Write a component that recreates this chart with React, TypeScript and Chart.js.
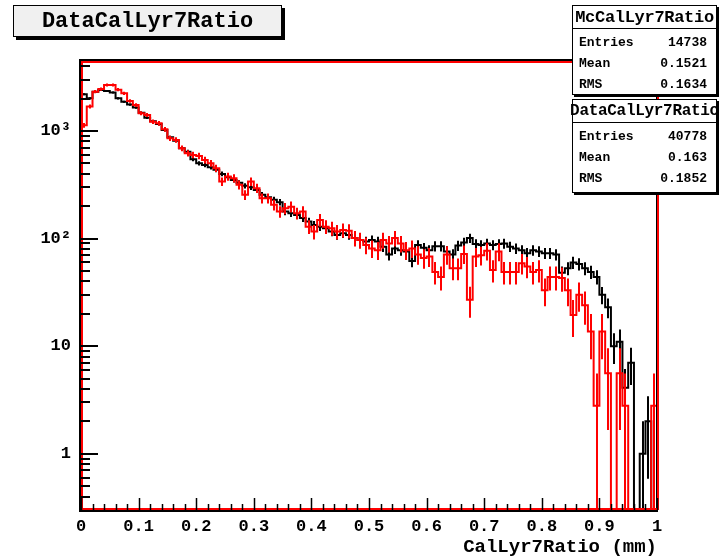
import React, { useEffect, useRef } from 'react';
import { Chart, registerables } from 'chart.js';

Chart.register(...registerables);

// ---------------- data ----------------
const BIN_WIDTH = 0.01;
const X_MIN = 0;
const X_MAX = 1;
const Y_MIN = 0.302;
const Y_MAX = 4470;

// Data histogram (black), 100 bins of 0.01
const dataCounts = [
  2190, 2010, 2320, 2400, 2350, 2280, 2010, 1870, 1760, 1650,
  1480, 1330, 1230, 1160, 1020, 874, 812, 690, 642, 546,
  501, 483, 460, 435, 399, 372, 351, 331, 309, 300,
  283, 255, 242, 229, 218, 178, 172, 166, 155, 144,
  134, 129, 125, 116, 108, 112, 108, 101, 97, 94,
  97, 94, 84, 71, 81, 78, 76, 62, 87, 82,
  78, 85, 85, 76, 71, 86, 92, 101, 89, 87,
  90, 87, 89, 90, 84, 81, 78, 73, 78, 76,
  73, 73, 71, 48, 53, 60, 58, 53, 49, 44,
  30, 23, 10, 11, 4.1, 7, 0, 1, 2, 0,
];

// MC histogram (red), normalised to the data
const mcCounts = [
  1130, 1690, 2320, 2450, 2670, 2670, 2420, 2240, 1900, 1740,
  1460, 1409, 1221, 1178, 1037, 855, 825, 690, 621, 599,
  586, 538, 501, 451, 339, 377, 364, 316, 255, 339,
  294, 237, 237, 206, 178, 191, 198, 172, 178, 129,
  116, 149, 129, 125, 116, 120, 118, 101, 97, 87,
  81, 78, 97, 90, 101, 90, 78, 81, 71, 66,
  68, 49, 44, 71, 53, 53, 72, 27, 68, 70,
  77, 51, 76, 49, 49, 49, 59, 55, 49, 51,
  33, 44, 44, 43, 33, 19.5, 30, 24, 13.7, 2.8,
  13.7, 5.6, 0, 5.6, 2.8, 0, 0, 0, 0, 2.8,
];

const xTickValues = [0, 0.1, 0.2, 0.3, 0.4, 0.5, 0.6, 0.7, 0.8, 0.9, 1];
const xTickLabels = ['0', '0.1', '0.2', '0.3', '0.4', '0.5', '0.6', '0.7', '0.8', '0.9', '1'];
const yDecades = [1, 10, 100, 1000];
const yDecadeLabels = ['1', '10', '10²', '10³'];

const titleText = 'DataCalLyr7Ratio';
const xAxisTitle = 'CalLyr7Ratio (mm)';

const statLabels = ['Entries', 'Mean', 'RMS'];
const mcStatName = 'McCalLyr7Ratio';
const mcStatValues = ['14738', '0.1521', '0.1634'];
const dataStatName = 'DataCalLyr7Ratio';
const dataStatValues = ['40778', '0.163', '0.1852'];

const DATA_ENTRIES = 40778;
const MC_ENTRIES = 14738;

// ---------------- style ----------------
const RED = '#ff0000';
const BLACK = '#000000';
const MONO = "'Liberation Mono', 'DejaVu Sans Mono', 'Courier New', monospace";

const ZERO_FLOOR = 0.01; // empty bins are drawn below the axis (clipped)

function stepPoints(vals: number[]) {
  const pts = vals.map((v, i) => ({ x: i * BIN_WIDTH, y: v > 0 ? v : ZERO_FLOOR }));
  const last = vals[vals.length - 1];
  pts.push({ x: vals.length * BIN_WIDTH, y: last > 0 ? last : ZERO_FLOOR });
  return pts;
}

const rootPlugin = {
  id: 'rootStyle',
  afterDatasetsDraw(chart: any) {
    const { ctx, chartArea: a } = chart;
    const xs = chart.scales.x;
    const ys = chart.scales.y;

    // error bars
    ctx.save();
    ctx.beginPath();
    ctx.rect(a.left, a.top, a.right - a.left, a.bottom - a.top);
    ctx.clip();
    const drawErr = (vals: number[], w: number, color: string) => {
      ctx.strokeStyle = color;
      ctx.lineWidth = 2;
      vals.forEach((v, i) => {
        if (v <= 0) return;
        const e = Math.sqrt(v * w);
        const px = Math.round(xs.getPixelForValue((i + 0.5) * BIN_WIDTH));
        const lo = Math.max(v - e, ZERO_FLOOR);
        ctx.beginPath();
        ctx.moveTo(px, ys.getPixelForValue(lo));
        ctx.lineTo(px, ys.getPixelForValue(v + e));
        ctx.stroke();
      });
    };
    drawErr(dataCounts, 1, BLACK);
    drawErr(mcCounts, DATA_ENTRIES / MC_ENTRIES, RED);
    ctx.restore();

    // frame
    ctx.save();
    ctx.lineWidth = 2;
    ctx.strokeStyle = BLACK;
    ctx.strokeRect(a.left - 1, a.top - 1, a.right - a.left + 1, a.bottom - a.top + 2);
    ctx.strokeStyle = RED;
    ctx.lineWidth = 2;
    ctx.strokeRect(a.left + 1, a.top + 1, a.right - a.left, a.bottom - a.top - 2);

    // y ticks (inward)
    ctx.strokeStyle = BLACK;
    ctx.lineWidth = 2;
    for (let d = -1; d <= 3; d++) {
      for (let m = 1; m <= 9; m++) {
        const val = m * Math.pow(10, d);
        if (val < Y_MIN || val > Y_MAX) continue;
        const py = Math.round(ys.getPixelForValue(val));
        const len = m === 1 ? 17 : 9;
        ctx.beginPath();
        ctx.moveTo(a.left, py);
        ctx.lineTo(a.left + len, py);
        ctx.stroke();
      }
    }
    // x ticks (inward)
    ctx.lineWidth = 1.5;
    for (let k = 0; k <= 50; k++) {
      const val = k * 0.02;
      const px = Math.round(xs.getPixelForValue(val)) + 0.5;
      const len = k % 5 === 0 ? 12 : 6;
      ctx.beginPath();
      ctx.moveTo(px, a.bottom);
      ctx.lineTo(px, a.bottom - len);
      ctx.stroke();
    }
    ctx.restore();
  },
};

function StatBox(props: {
  left: number; top: number; width: number; height: number;
  name: string; nameSize: number; values: string[];
}) {
  const { left, top, width, height, name, nameSize, values } = props;
  return (
    <div
      style={{
        position: 'absolute', left, top, width, height, boxSizing: 'border-box',
        background: '#ffffff', border: '1px solid #000', boxShadow: '2px 2px 0 #000',
        fontFamily: MONO, fontWeight: 'bold', color: '#000',
      }}
    >
      <div
        style={{
          height: 22, borderBottom: '1px solid #000', display: 'flex',
          alignItems: 'center', justifyContent: 'center', fontSize: nameSize,
          whiteSpace: 'nowrap', overflow: 'visible', letterSpacing: -0.3,
        }}
      >
        {name}
      </div>
      <div style={{ paddingTop: 3 }}>
        {statLabels.map((lab, i) => (
          <div
            key={lab}
            style={{
              height: 21, display: 'flex', alignItems: 'center',
              justifyContent: 'space-between', padding: '0 9px 0 6px', fontSize: 13,
            }}
          >
            <span>{lab}</span>
            <span>{values[i]}</span>
          </div>
        ))}
      </div>
    </div>
  );
}

export default function App() {
  const canvasRef = useRef<HTMLCanvasElement | null>(null);

  useEffect(() => {
    const canvas = canvasRef.current;
    if (!canvas) return;
    const tickFont = { family: MONO, size: 17, weight: 'bold' as const };
    const chart = new Chart(canvas, {
      type: 'line',
      data: {
        datasets: [
          {
            label: 'McCalLyr7Ratio',
            data: stepPoints(mcCounts),
            borderColor: RED,
            borderWidth: 2,
            pointRadius: 0,
            stepped: 'before',
            fill: false,
          },
          {
            label: 'DataCalLyr7Ratio',
            data: stepPoints(dataCounts),
            borderColor: BLACK,
            borderWidth: 2,
            pointRadius: 0,
            stepped: 'before',
            fill: false,
          },
        ],
      },
      options: {
        animation: false,
        responsive: false,
        devicePixelRatio: 1,
        layout: { padding: { left: 0, right: 67, top: 61, bottom: 0 } },
        plugins: { legend: { display: false }, tooltip: { enabled: false }, title: { display: false } },
        scales: {
          x: {
            type: 'linear',
            min: X_MIN,
            max: X_MAX,
            grid: { display: false, drawTicks: false },
            border: { display: false },
            afterFit: (s: any) => { s.height = 49; },
            afterBuildTicks: (s: any) => { s.ticks = xTickValues.map((v) => ({ value: v })); },
            ticks: {
              autoSkip: false,
              maxRotation: 0,
              padding: 7,
              color: BLACK,
              font: tickFont,
              callback: (v: any) => {
                const i = xTickValues.findIndex((t) => Math.abs(t - Number(v)) < 1e-6);
                return i >= 0 ? xTickLabels[i] : '';
              },
            },
            title: {
              display: true,
              text: xAxisTitle,
              align: 'end',
              color: BLACK,
              font: { family: MONO, size: 19, weight: 'bold', lineHeight: 1.2 },
              padding: { top: 0, bottom: 0 },
            },
          },
          y: {
            type: 'logarithmic',
            min: Y_MIN,
            max: Y_MAX,
            grid: { display: false, drawTicks: false },
            border: { display: false },
            afterFit: (s: any) => { s.width = 81; },
            afterBuildTicks: (s: any) => { s.ticks = yDecades.map((v) => ({ value: v })); },
            ticks: {
              autoSkip: false,
              padding: 10,
              color: BLACK,
              font: tickFont,
              callback: (v: any) => {
                const i = yDecades.findIndex((t) => Math.abs(t - Number(v)) < 1e-6);
                return i >= 0 ? yDecadeLabels[i] : '';
              },
            },
          },
        },
      },
      plugins: [rootPlugin],
    } as any);
    return () => chart.destroy();
  }, []);

  return (
    <div style={{ position: 'absolute', left: 0, top: 0, width: 724, height: 559, background: '#fff', overflow: 'hidden' }}>
      <canvas ref={canvasRef} width={724} height={559} style={{ display: 'block', width: 724, height: 559 }} />
      <div
        style={{
          position: 'absolute', left: 13, top: 5, width: 269, height: 32, boxSizing: 'border-box',
          background: '#f0f0f0', border: '1px solid #000', boxShadow: '3px 3px 0 #000',
          display: 'flex', alignItems: 'center', justifyContent: 'center',
          fontFamily: MONO, fontWeight: 'bold', fontSize: 22, color: '#000',
        }}
      >
        {titleText}
      </div>
      <StatBox left={572} top={5} width={145} height={90} name={mcStatName} nameSize={17} values={mcStatValues} />
      <StatBox left={572} top={99} width={145} height={94} name={dataStatName} nameSize={16} values={dataStatValues} />
    </div>
  );
}
